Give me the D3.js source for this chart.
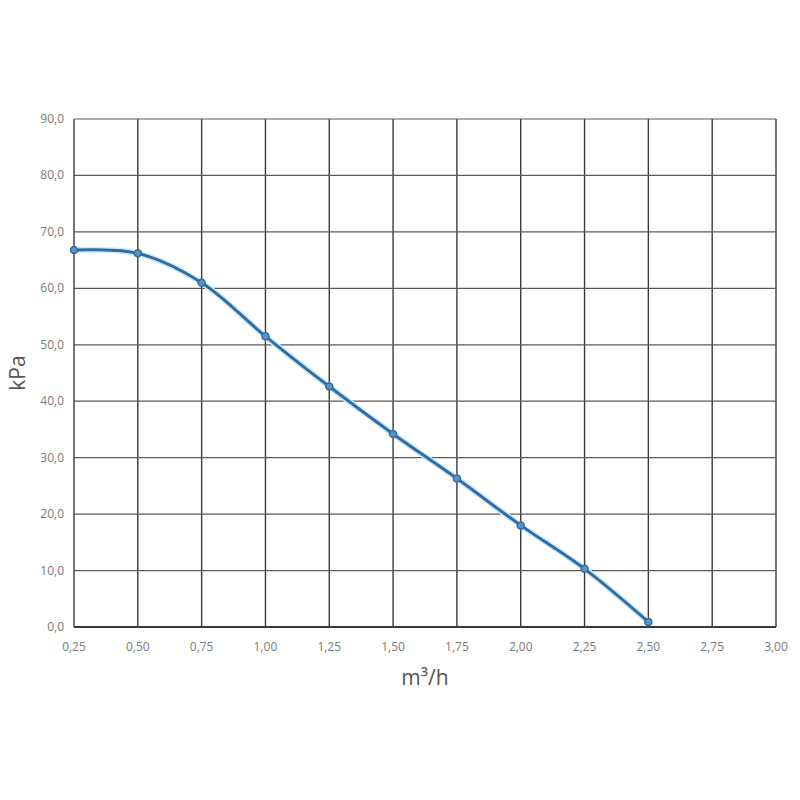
<!DOCTYPE html>
<html>
<head>
<meta charset="utf-8">
<script src="https://cdn.jsdelivr.net/npm/d3@7"></script>
<style>
  body { margin: 0; background: #fff; }
  text { font-family: "Open Sans", "Noto Sans", sans-serif; }
</style>
</head>
<body>
<svg width="800" height="800"></svg>
<script>
// flow (m3/h) and pressure (kPa)
const flow = [0.25, 0.50, 0.75, 1.00, 1.25, 1.50, 1.75, 2.00, 2.25, 2.50]
const pressure = [66.8, 66.2, 61.0, 51.5, 42.6, 34.2, 26.3, 18.0, 10.3, 0.9]
const xTicks = [0.25, 0.5, 0.75, 1, 1.25, 1.5, 1.75, 2, 2.25, 2.5, 2.75, 3]
const yTicks = [0, 10, 20, 30, 40, 50, 60, 70, 80, 90]

const svg = d3.select('svg')
const plotLeft = 74, plotRight = 776, plotTop = 119, plotBottom = 627

const x = d3.scaleLinear().domain([0.25, 3]).range([plotLeft, plotRight])
const y = d3.scaleLinear().domain([0, 90]).range([plotBottom, plotTop])

const comma = (d, n) => d.toFixed(n).replace('.', ',')

// grid
const grid = svg.append('g').attr('stroke', '#3a3a3a').attr('stroke-width', 1.4)
grid.selectAll('.v')
    .data(xTicks)
    .enter().append('line')
    .attr('x1', d => x(d)).attr('x2', d => x(d))
    .attr('y1', plotTop).attr('y2', plotBottom)
grid.selectAll('.h')
    .data(yTicks)
    .enter().append('line')
    .attr('x1', plotLeft).attr('x2', plotRight)
    .attr('y1', d => y(d)).attr('y2', d => y(d))
    .attr('stroke', d => d === 0 ? '#3a3a3a' : '#5a5a5a')
    .attr('stroke-width', d => d === 0 ? 2 : 1.2)

// tick labels
svg.append('g').selectAll('text')
    .data(yTicks)
    .enter().append('text')
    .attr('x', plotLeft - 10)
    .attr('y', d => y(d) + 4)
    .attr('text-anchor', 'end')
    .attr('font-size', 12)
    .attr('fill', '#7a7a7a')
    .text(d => comma(d, 1))

svg.append('g').selectAll('text')
    .data(xTicks)
    .enter().append('text')
    .attr('x', d => x(d))
    .attr('y', plotBottom + 24)
    .attr('text-anchor', 'middle')
    .attr('font-size', 12)
    .attr('fill', '#7a7a7a')
    .text(d => comma(d, 2))

// axis titles
svg.append('text')
    .attr('transform', `translate(25,${(plotTop + plotBottom) / 2}) rotate(-90)`)
    .attr('text-anchor', 'middle')
    .attr('font-size', 21)
    .attr('fill', '#555')
    .text('kPa')

svg.append('text')
    .attr('x', (plotLeft + plotRight) / 2)
    .attr('y', 685)
    .attr('text-anchor', 'middle')
    .attr('font-size', 21)
    .attr('fill', '#555')
    .text('m³/h')

// curve
const pts = flow.map((f, i) => [f, pressure[i]])
const line = d3.line()
    .x(d => x(d[0]))
    .y(d => y(d[1]))
    .curve(d3.curveCatmullRom.alpha(0.5))

svg.append('path')
    .datum(pts)
    .attr('d', line)
    .attr('fill', 'none')
    .attr('stroke', '#cfe9fb')
    .attr('stroke-width', 6)

svg.append('path')
    .datum(pts)
    .attr('d', line)
    .attr('fill', 'none')
    .attr('stroke', '#2f6ea3')
    .attr('stroke-width', 3)

svg.append('g').selectAll('circle')
    .data(pts)
    .enter().append('circle')
    .attr('cx', d => x(d[0]))
    .attr('cy', d => y(d[1]))
    .attr('r', 3.5)
    .attr('fill', '#5b93c7')
    .attr('stroke', '#2f6ea3')
    .attr('stroke-width', 1.5)
</script>
</body>
</html>
